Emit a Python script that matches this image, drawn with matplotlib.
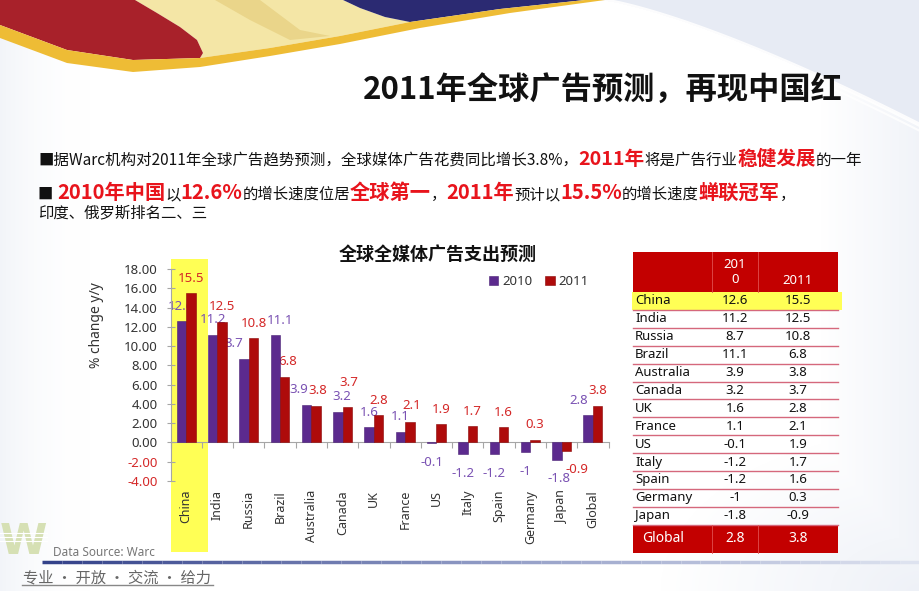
import numpy as np
import matplotlib
matplotlib.use("Agg")
import matplotlib.pyplot as plt
from matplotlib.patches import Rectangle, Polygon
from matplotlib.collections import LineCollection
from matplotlib.transforms import blended_transform_factory

CJK = ['Noto Sans CJK SC', 'DejaVu Sans']
LATIN = ['Noto Sans', 'DejaVu Sans']

# Data.

countries = ['China', 'India', 'Russia', 'Brazil', 'Australia', 'Canada', 'UK',
             'France', 'US', 'Italy', 'Spain', 'Germany', 'Japan', 'Global']
growth_2010 = [12.6, 11.2, 8.7, 11.1, 3.9, 3.2, 1.6, 1.1, -0.1, -1.2, -1.2,
               -1.0, -1.8, 2.8]
growth_2011 = [15.5, 12.5, 10.8, 6.8, 3.8, 3.7, 2.8, 2.1, 1.9, 1.7, 1.6, 0.3,
               -0.9, 3.8]
series_names = ['2010', '2011']
table_header = ['', '201\n0', '2011']
y_ticks = [-4, -2, 0, 2, 4, 6, 8, 10, 12, 14, 16, 18]
highlight = 'China'

slide_title = "2011年全球广告预测，再现中国红"
chart_title = "全球全媒体广告支出预测"
y_label = "% change y/y"
source_text = "Data Source: Warc"
footer_text = "专业 · 开放 · 交流 · 给力"

bullet_1 = [("■据Warc机构对2011年全球广告趋势预测，全球媒体广告花费同比增长3.8%，", 'n'),
            ("2011年", 'r'), ("将是广告行业", 'n'), ("稳健发展", 'r'),
            ("的一年", 'n')]
bullet_2 = [("■ ", 'n'), ("2010年中国", 'r'), ("以", 'n'), ("12.6%", 'r'),
            ("的增长速度位居", 'n'), ("全球第一", 'r'), ("，", 'n'),
            ("2011年", 'r'), ("预计以", 'n'), ("15.5%", 'r'),
            ("的增长速度", 'n'), ("蝉联冠军", 'r'), ("，", 'n')]
bullet_3 = [("印度、俄罗斯排名二、三", 'n')]

# Hand nudges (px) of crowded data labels: (2010 label, 2011 label).
label_nudge = {'Russia': ((-10, 0), (0, 0)),
               'Brazil': ((5, 0), (3, 0)),
               'Australia': ((-8, 0), (2, 0)),
               'Canada': ((4, 0), (2, 9)),
               'France': ((0, 0), (2, 2)),
               'Japan': ((2, 0), (11, 0)),
               'Global': ((-9, 0), (0, 0))}

# Colours.

PURPLE = '#5c2a8e'
RED = '#ae0b0b'
PURPLE_TXT = '#7a52b3'
RED_TXT = '#d42828'
TABLE_RED = '#c30000'
YELLOW = '#ffff55'

W, H = 920, 591

fig = plt.figure(figsize=(W / 100, H / 100), dpi=100)
renderer = fig.canvas.get_renderer()

# Background axes in pixel coordinates.

ax_bg = fig.add_axes([0, 0, 1, 1])
ax_bg.set_xlim(0, W)
ax_bg.set_ylim(H, 0)
ax_bg.axis('off')

yy, xx = np.mgrid[0:H, 0:W]
tint = np.clip(1 - xx / 90.0, 0, 1) ** 2 * 0.45
curve_y = 125 * np.clip((xx - 600) / 320.0, 0, None) ** 1.3
tint = np.maximum(tint, np.where((yy < curve_y) & (xx > 600), 0.85, 0))
tint = np.maximum(tint, np.clip((xx - 820) / 100.0, 0, 1) * 0.5)
corner = np.hypot((xx - W) / 260.0, (yy - H) / 160.0)
tint = np.maximum(tint, np.clip(1 - corner, 0, 1) * 0.6)
light = np.array([0.89, 0.91, 0.95])
bg = 1 - tint[..., None] * (1 - light)
ax_bg.imshow(bg, extent=(0, W, H, 0), aspect='auto', zorder=0)

cx = np.linspace(600, W, 60)
ax_bg.plot(cx, 125 * ((cx - 600) / 320.0) ** 1.3, color='white', lw=3,
           alpha=0.9, zorder=1)
ax_bg.plot(cx, 125 * ((cx - 600) / 320.0) ** 1.3 + 6, color='white', lw=1.5,
           alpha=0.8, zorder=1)

# Top-left swoosh.

cream = [(135, 0), (343, 0), (360, 8), (385, 17), (410, 22), (340, 36),
         (270, 48), (200, 58), (203, 53), (197, 40), (180, 27), (157, 13)]
ax_bg.add_patch(Polygon(cream, closed=True, fc='#f4e6a6', ec='none', zorder=2))
streak = [(215, 0), (260, 0), (300, 30), (330, 36), (290, 40), (250, 20)]
ax_bg.add_patch(Polygon(streak, closed=True, fc='#ead58a', ec='none',
                        zorder=2))
navy = [(343, 0), (585, 0), (500, 9), (410, 22), (385, 17), (360, 8)]
ax_bg.add_patch(Polygon(navy, closed=True, fc='#2b2a72', ec='none', zorder=2))
red_shape = [(0, 0), (135, 0), (157, 13), (180, 27), (197, 40), (203, 53),
             (200, 58), (133, 60), (67, 50), (0, 25)]
ax_bg.add_patch(Polygon(red_shape, closed=True, fc='#a8212a', ec='none',
                        zorder=2))
gold = [(0, 25), (67, 50), (133, 60), (200, 58), (270, 48), (340, 36),
        (410, 22), (500, 9), (585, 0), (605, 0), (510, 13), (420, 28),
        (340, 44), (270, 56), (200, 67), (133, 72), (67, 63), (0, 38)]
ax_bg.add_patch(Polygon(gold, closed=True, fc='#eebc35', ec='none', zorder=2))


def draw_runs(x0, y, runs, sizes, width=None):
    """Draw coloured text runs one after another on a common baseline."""
    def lay(scale):
        arts, x = [], x0
        for txt, kind in runs:
            t = ax_bg.text(x, y, txt, ha='left', va='baseline', family=CJK,
                           fontsize=sizes[kind] * scale,
                           color='#e8141c' if kind == 'r' else '#111111',
                           fontweight='bold' if kind == 'r' else 'normal',
                           zorder=5)
            x += t.get_window_extent(renderer).width
            arts.append(t)
        return arts, x - x0

    arts, w = lay(1.0)
    if width:
        for a in arts:
            a.remove()
        arts, w = lay(width / w)
    return arts


# Slide title and bullets.

for t in draw_runs(363, 100, [(slide_title, 't')], {'t': 22}, width=475):
    t.set_fontweight('bold')
    t.set_color('#111111')

draw_runs(38, 165, bullet_1, {'n': 11, 'r': 14}, width=822)
draw_runs(38, 199, bullet_2, {'n': 11, 'r': 14.5}, width=756)
draw_runs(38, 217, bullet_3, {'n': 11}, width=169)

ax_bg.text(438, 254, chart_title, ha='center', va='center', family=CJK,
           fontsize=13, fontweight='bold', color='#111111', zorder=5)

# Footer.

ax_bg.text(23, 563, 'W', ha='center', va='bottom', family='DejaVu Sans',
           fontsize=31, fontweight='bold', color='#d6e0b4', zorder=3)
for yl in (533, 537, 541):
    ax_bg.plot([0, 47], [yl, yl], color='white', lw=0.8, zorder=4)
ax_bg.text(53, 552, source_text, ha='left', va='center', family=LATIN,
           fontsize=8.5, color='#777777', zorder=5)

xs = np.linspace(42, W, 45)
segs = [[(xs[i], 562), (xs[i + 1], 562)] for i in range(len(xs) - 1)]
cols = plt.matplotlib.colors.LinearSegmentedColormap.from_list(
    'fade', ['#34428a', '#8f9ac4', '#dde2ef'])(np.linspace(0, 1, len(segs)))
ax_bg.add_collection(LineCollection(segs, colors=cols, lw=2.5, zorder=4))

for t in draw_runs(23, 582, [(footer_text, 'f')], {'f': 10}, width=189):
    t.set_color('#666666')
ax_bg.plot([22, 213], [585, 585], color='#888888', lw=1, zorder=4)

# Data table.

tab_x = [633, 712, 758, 838]
head_top, head_bot, row_h = 252, 292, 17.9
n_rows = len(countries) - 1
ax_bg.add_patch(Rectangle((tab_x[0], head_top), tab_x[-1] - tab_x[0],
                          head_bot - head_top, fc=TABLE_RED, ec='none',
                          zorder=3))
for cxp in tab_x[1:3]:
    ax_bg.plot([cxp, cxp], [head_top, head_bot], color='#e05050', lw=0.6,
               zorder=4)
ax_bg.text((tab_x[1] + tab_x[2]) / 2, 272, table_header[1], ha='center',
           va='center', family=LATIN, fontsize=9.5, color='white',
           linespacing=1.15, zorder=5)
ax_bg.text((tab_x[2] + tab_x[3]) / 2, 280, table_header[2], ha='center',
           va='center', family=LATIN, fontsize=9.5, color='white', zorder=5)

for i, (name, a, b) in enumerate(zip(countries[:n_rows], growth_2010,
                                     growth_2011)):
    top = head_bot + i * row_h
    yc = top + row_h / 2
    if name == highlight:
        ax_bg.add_patch(Rectangle((tab_x[0] - 1, top), tab_x[-1] - tab_x[0] + 5,
                                  row_h, fc=YELLOW, ec='none', zorder=3))
    ax_bg.plot([tab_x[0], tab_x[-1]], [top + row_h, top + row_h],
               color='#d5687c', lw=1.0, zorder=4)
    ax_bg.text(tab_x[0] + 2, yc, name, ha='left', va='center', family=LATIN,
               fontsize=9.5, color='#111111', zorder=5)
    ax_bg.text((tab_x[1] + tab_x[2]) / 2, yc, f"{a:g}", ha='center',
               va='center', family=LATIN, fontsize=9.5, color='#111111',
               zorder=5)
    ax_bg.text((tab_x[2] + tab_x[3]) / 2, yc, f"{b:g}", ha='center',
               va='center', family=LATIN, fontsize=9.5, color='#111111',
               zorder=5)

g_top = head_bot + n_rows * row_h
g_h = 553 - g_top
ax_bg.add_patch(Rectangle((tab_x[0], g_top), tab_x[-1] - tab_x[0], g_h,
                          fc=TABLE_RED, ec='none', zorder=3))
for cxp in tab_x[1:3]:
    ax_bg.plot([cxp, cxp], [g_top, g_top + g_h], color='#e05050', lw=0.6,
               zorder=4)
gy = g_top + g_h / 2
ax_bg.text(tab_x[0] + 9, gy, countries[-1], ha='left', va='center',
           family=LATIN, fontsize=10, color='white', zorder=5)
ax_bg.text((tab_x[1] + tab_x[2]) / 2, gy, f"{growth_2010[-1]:g}",
           ha='center', va='center', family=LATIN, fontsize=10,
           color='white', zorder=5)
ax_bg.text((tab_x[2] + tab_x[3]) / 2, gy, f"{growth_2011[-1]:g}",
           ha='center', va='center', family=LATIN, fontsize=10,
           color='white', zorder=5)

# Bar chart.

ax_l, ax_r, ax_t, ax_b = 170.5, 608.5, 269, 481
ax = fig.add_axes([ax_l / W, 1 - ax_b / H, (ax_r - ax_l) / W,
                   (ax_b - ax_t) / H])
ax.patch.set_alpha(0)

x = np.arange(len(countries))
bw = 0.3
ax.bar(x - bw / 2, growth_2010, bw, color=PURPLE, edgecolor='#4a2075',
       linewidth=0.4, zorder=3, label=series_names[0])
ax.bar(x + bw / 2, growth_2011, bw, color=RED, edgecolor='#8a0505',
       linewidth=0.4, zorder=3, label=series_names[1])

px = 0.72
for k, (vals, shift, color) in enumerate([(growth_2010, -bw / 2, PURPLE_TXT),
                                          (growth_2011, bw / 2, RED_TXT)]):
    for i, v in enumerate(vals):
        dx, dy = label_nudge.get(countries[i], ((0, 0), (0, 0)))[k]
        base = 15 if v >= 0 else -(19 - k)
        ax.annotate(f"{v:g}", (x[i] + shift, v),
                    xytext=(dx * px, (base + dy) * px),
                    textcoords='offset points', ha='center', va='center',
                    family=LATIN, fontsize=9.5, color=color, zorder=2)

ax.set_xlim(-0.5, len(countries) - 0.5)
ax.set_ylim(min(y_ticks), max(y_ticks))

trans = blended_transform_factory(ax.transData, ax.transAxes)
hi = countries.index(highlight)
ax.add_patch(Rectangle((hi - 0.5, -0.335), 1.2, 1.382, transform=trans,
                       fc=YELLOW, ec='none', clip_on=False, zorder=0))

for i, name in enumerate(countries):
    ax.text(x[i], -0.042, name, transform=trans, rotation=90, ha='center',
            va='top', family=LATIN, fontsize=9, color='#333333')

for side in ('top', 'right'):
    ax.spines[side].set_visible(False)
ax.spines['bottom'].set_position(('data', 0))
ax.spines['bottom'].set_color('#a6a6a6')
ax.spines['left'].set_color('#a6a6a6')

ax.set_xticks(np.arange(len(countries) + 1) - 0.5)
ax.tick_params(axis='x', direction='out', length=4, color='#a6a6a6',
               labelbottom=False)
ax.set_yticks(y_ticks)
ax.set_yticklabels([f"{v:.2f}" for v in y_ticks], family=LATIN, fontsize=9.5)
for lab, v in zip(ax.get_yticklabels(), y_ticks):
    lab.set_color(RED_TXT if v < 0 else '#333333')
ax.tick_params(axis='y', direction='inout', length=6, color='#a6a6a6', pad=6)

ax.text((97 - ax_l) / (ax_r - ax_l), (ax_b - 325) / (ax_b - ax_t), y_label,
        transform=ax.transAxes, rotation=90, ha='center', va='center',
        family=LATIN, fontsize=10, color='#333333')

leg = ax.legend(loc='center left', bbox_to_anchor=(0.70, 0.94), ncol=2,
                frameon=False, handlelength=0.7, handleheight=0.7,
                handletextpad=0.3, columnspacing=1.0,
                prop={'family': LATIN, 'size': 9.5})
for t in leg.get_texts():
    t.set_color('#333333')

fig.savefig("out.png", dpi=100)
plt.close(fig)
